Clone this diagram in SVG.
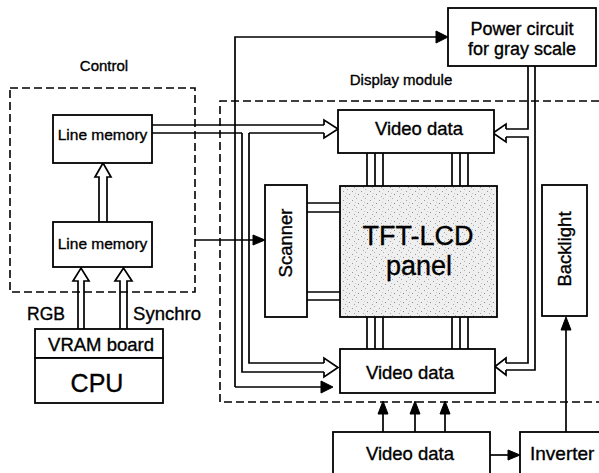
<svg xmlns="http://www.w3.org/2000/svg" width="599" height="473" viewBox="0 0 599 473">
<style>
.box{fill:#fff;stroke:#000;stroke-width:1.8}
.dash{fill:none;stroke:#000;stroke-width:1.6;stroke-dasharray:8 4}
.ln{fill:none;stroke:#000;stroke-width:1.7}
.hd{fill:#000;stroke:#000;stroke-width:1}
.t{font-family:"Liberation Sans",Arial,sans-serif;fill:#000;stroke:#000;stroke-width:0.35}
</style>
<defs>
<pattern id="stip" width="9" height="9" patternUnits="userSpaceOnUse">
<rect width="9" height="9" fill="#efefef"/>
<rect x="1" y="2" width="1" height="1" fill="#9a9a9a"/>
<rect x="5" y="0" width="1" height="1" fill="#b0b0b0"/>
<rect x="7" y="5" width="1" height="1" fill="#8a8a8a"/>
<rect x="3" y="7" width="1" height="1" fill="#a5a5a5"/>
<rect x="4" y="4" width="1" height="1" fill="#c8c8c8"/>
</pattern>
</defs>

<!-- dashed regions -->
<rect class="dash" x="10" y="88" width="185" height="204"/>
<path class="dash" d="M599,101 L220,101 L220,402 L599,402"/>
<text class="t" x="104" y="71" font-size="15" text-anchor="middle">Control</text>
<text class="t" x="401" y="85" font-size="15" text-anchor="middle">Display module</text>

<g id="connectors">
<!-- top control line to power circuit -->
<path class="ln" d="M235,387 L235,37 L437,37"/>
<polygon class="hd" points="436,31 448,37 436,43"/>
<!-- filled arrow to bottom video data -->
<path class="ln" d="M235,387 L322,387"/>
<polygon class="hd" points="321,381 333,387 321,393"/>
<!-- hollow arrow line memory -> top video data, with branch -->
<path class="ln" d="M152,125 L324,125 M152,133 L242,133 M249,133 L324,133"/>
<path class="ln" d="M324,125 L324,120 L338,129 L324,138 L324,133"/>
<path class="ln" d="M242,133 L242,372 L324,372 M249,133 L249,363 L324,363"/>
<path class="ln" d="M324,363 L324,358 L338,367.5 L324,377 L324,372"/>
<!-- scanner line -->
<path class="ln" d="M195,240 L254,240"/>
<polygon class="hd" points="253,235 265,240 253,245"/>
<!-- power circuit double lines -->
<path class="ln" d="M535,66 L535,370 L506,370 M528,66 L528,129 L506,129 M506,137 L528,137 L528,363 L506,363"/>
<path class="ln" d="M506,129 L506,124 L493,133 L506,142 L506,137"/>
<path class="ln" d="M506,363 L506,358 L495,366.5 L506,375 L506,370"/>
<!-- vertical hollow arrow between line memories -->
<path class="ln" d="M99,222 L99,177 L95,177 L103,163 L111,177 L107,177 L107,222"/>
<!-- RGB / Synchro -->
<path class="ln" d="M78,329 L78,281 L73,281 L81,268 L89,281 L84,281 L84,329"/>
<path class="ln" d="M120,329 L120,281 L115,281 L123.5,268 L132,281 L127,281 L127,329"/>
<!-- video data bus lines -->
<path class="ln" d="M367,153 L367,186 M375,153 L375,186 M383,153 L383,186 M452,153 L452,186 M460,153 L460,186 M468,153 L468,186"/>
<path class="ln" d="M367,317 L367,349 M375,317 L375,349 M383,317 L383,349 M452,317 L452,349 M460,317 L460,349 M468,317 L468,349"/>
<path class="ln" d="M307,203 L340,203 M307,212 L340,212 M307,292 L340,292 M307,300 L340,300"/>
<!-- external video data up arrows -->
<path class="ln" d="M383,432 L383,413 M415,432 L415,413 M445,432 L445,413"/>
<polygon class="hd" points="378,414 383,401 388,414"/>
<polygon class="hd" points="410,414 415,401 420,414"/>
<polygon class="hd" points="440,414 445,401 450,414"/>
<!-- video data -> inverter -->
<path class="ln" d="M490,455 L509,455"/>
<polygon class="hd" points="508,450 520,455 508,460"/>
<!-- inverter -> backlight -->
<path class="ln" d="M566,432 L566,329"/>
<polygon class="hd" points="561,330 566,317 571,330"/>
</g>

<g id="power">
<rect class="box" x="448" y="8" width="148" height="58"/>
<text class="t" x="522" y="35" font-size="18" text-anchor="middle">Power circuit</text>
<text class="t" x="522" y="55" font-size="18" text-anchor="middle">for gray scale</text>
</g>
<g id="linemem1">
<rect class="box" x="53" y="115" width="99" height="48"/>
<text class="t" x="102.5" y="140" font-size="15.5" text-anchor="middle">Line memory</text>
</g>
<g id="linemem2">
<rect class="box" x="53" y="222" width="99" height="45"/>
<text class="t" x="102.5" y="249" font-size="15.5" text-anchor="middle">Line memory</text>
</g>
<text class="t" x="46" y="320" font-size="17.5" text-anchor="middle">RGB</text>
<text class="t" x="167" y="320" font-size="18.5" text-anchor="middle">Synchro</text>
<g id="vram">
<rect class="box" x="35" y="329" width="128" height="29"/>
<text class="t" x="101" y="351" font-size="18.5" text-anchor="middle">VRAM board</text>
</g>
<g id="cpu">
<rect class="box" x="35" y="358" width="128" height="45"/>
<text class="t" x="97" y="392" font-size="25" text-anchor="middle">CPU</text>
</g>
<g id="videotop">
<rect class="box" x="338" y="110" width="156" height="43"/>
<text class="t" x="419" y="135" font-size="18.5" text-anchor="middle">Video data</text>
</g>
<g id="scanner">
<rect class="box" x="265" y="185" width="42" height="132"/>
<text class="t" transform="translate(292,243) rotate(-90)" font-size="18.5" text-anchor="middle">Scanner</text>
</g>
<g id="panel">
<rect x="340" y="186" width="157" height="131" fill="url(#stip)" stroke="#000" stroke-width="1.8"/>
<text class="t" x="418" y="245" font-size="27" text-anchor="middle">TFT-LCD</text>
<text class="t" x="419" y="275" font-size="27" text-anchor="middle">panel</text>
</g>
<g id="backlight">
<rect class="box" x="542" y="185" width="45" height="131"/>
<text class="t" transform="translate(571,249) rotate(-90)" font-size="18.5" text-anchor="middle">Backlight</text>
</g>
<g id="videobottom">
<rect class="box" x="340" y="349" width="155" height="44"/>
<text class="t" x="410" y="379" font-size="18.5" text-anchor="middle">Video data</text>
</g>
<g id="videoext">
<rect class="box" x="333" y="432" width="157" height="50"/>
<text class="t" x="410" y="460" font-size="18.5" text-anchor="middle">Video data</text>
</g>
<g id="inverter">
<rect class="box" x="520" y="432" width="90" height="50"/>
<text class="t" x="530" y="460" font-size="19">Inverter</text>
</g>
</svg>
